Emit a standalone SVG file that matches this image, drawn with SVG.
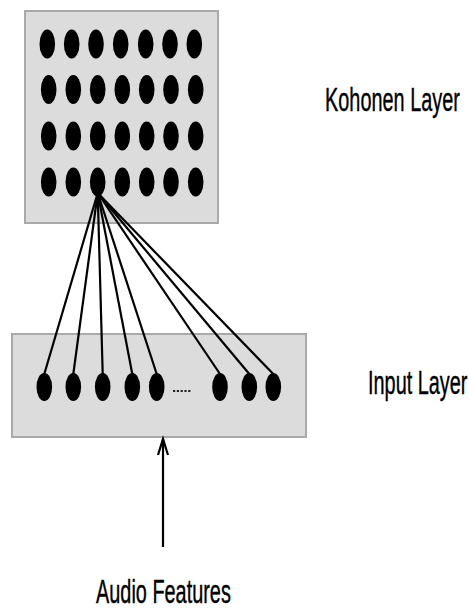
<svg xmlns="http://www.w3.org/2000/svg" width="469" height="610" viewBox="0 0 469 610">
<style>
.box{fill:#dcdcdc;stroke:#a9a9a9;stroke-width:2}
.dot{fill:#000}
.conn{stroke:#000;stroke-width:2.2;fill:none}
.lbl{font-family:"Liberation Sans",Arial,sans-serif;font-size:34px;fill:#000;stroke:#000;stroke-width:0.4}
</style>
<rect width="469" height="610" fill="#fff"/>
<g id="kohonen">
<rect class="box" x="25" y="11" width="193" height="212"/>
<g class="dot">
<ellipse cx="47.3" cy="44" rx="7.8" ry="14.5"/><ellipse cx="71.7" cy="44" rx="7.8" ry="14.5"/><ellipse cx="96" cy="44" rx="7.8" ry="14.5"/><ellipse cx="120.7" cy="44" rx="7.8" ry="14.5"/><ellipse cx="145.7" cy="44" rx="7.8" ry="14.5"/><ellipse cx="170" cy="44" rx="7.8" ry="14.5"/><ellipse cx="194.3" cy="44" rx="7.8" ry="14.5"/>
<ellipse cx="48.7" cy="89.5" rx="7.8" ry="14.5"/><ellipse cx="73.3" cy="89.5" rx="7.8" ry="14.5"/><ellipse cx="97.7" cy="89.5" rx="7.8" ry="14.5"/><ellipse cx="122.3" cy="89.5" rx="7.8" ry="14.5"/><ellipse cx="146.7" cy="89.5" rx="7.8" ry="14.5"/><ellipse cx="171" cy="89.5" rx="7.8" ry="14.5"/><ellipse cx="195.7" cy="89.5" rx="7.8" ry="14.5"/>
<ellipse cx="48.7" cy="136" rx="7.8" ry="14.5"/><ellipse cx="73.3" cy="136" rx="7.8" ry="14.5"/><ellipse cx="97.7" cy="136" rx="7.8" ry="14.5"/><ellipse cx="122.3" cy="136" rx="7.8" ry="14.5"/><ellipse cx="146.7" cy="136" rx="7.8" ry="14.5"/><ellipse cx="171" cy="136" rx="7.8" ry="14.5"/><ellipse cx="195.7" cy="136" rx="7.8" ry="14.5"/>
<ellipse cx="48.7" cy="182" rx="7.8" ry="14.5"/><ellipse cx="73.3" cy="182" rx="7.8" ry="14.5"/><ellipse cx="97.7" cy="182" rx="7.8" ry="14.5"/><ellipse cx="122.3" cy="182" rx="7.8" ry="14.5"/><ellipse cx="146.7" cy="182" rx="7.8" ry="14.5"/><ellipse cx="171" cy="182" rx="7.8" ry="14.5"/><ellipse cx="195.7" cy="182" rx="7.8" ry="14.5"/>
</g>
</g>
<g id="input">
<rect class="box" x="12" y="334" width="294" height="103"/>
<g class="dot">
<ellipse cx="44.3" cy="387" rx="7.8" ry="14"/><ellipse cx="73.3" cy="387" rx="7.8" ry="14"/><ellipse cx="102.7" cy="387" rx="7.8" ry="14"/><ellipse cx="132.3" cy="387" rx="7.8" ry="14"/><ellipse cx="156.7" cy="387" rx="7.8" ry="14"/><ellipse cx="220" cy="387" rx="7.8" ry="14"/><ellipse cx="249.3" cy="387" rx="7.8" ry="14"/><ellipse cx="273.3" cy="387" rx="7.8" ry="14"/>
</g>
<line x1="173" y1="391" x2="192" y2="391" stroke="#222" stroke-width="2" stroke-dasharray="2.2,1.6"/>
</g>
<g id="connectors">
<line class="conn" x1="97.7" y1="193" x2="44.3" y2="374"/>
<line class="conn" x1="97.7" y1="193" x2="73.3" y2="374"/>
<line class="conn" x1="97.7" y1="193" x2="102.7" y2="374"/>
<line class="conn" x1="97.7" y1="193" x2="132.3" y2="374"/>
<line class="conn" x1="97.7" y1="193" x2="156.7" y2="374"/>
<line class="conn" x1="97.7" y1="193" x2="220" y2="374"/>
<line class="conn" x1="97.7" y1="193" x2="249.3" y2="374"/>
<line class="conn" x1="97.7" y1="193" x2="273.3" y2="374"/>
<line class="conn" x1="163" y1="547" x2="163" y2="439"/>
<polyline class="conn" points="158,455 163,439 168,455"/>
</g>
<g id="labels">
<text class="lbl" transform="translate(325,111) scale(0.585,1)">Kohonen Layer</text>
<text class="lbl" transform="translate(368,394) scale(0.585,1)">Input Layer</text>
<text class="lbl" transform="translate(96,603) scale(0.585,1)">Audio Features</text>
</g>
</svg>
